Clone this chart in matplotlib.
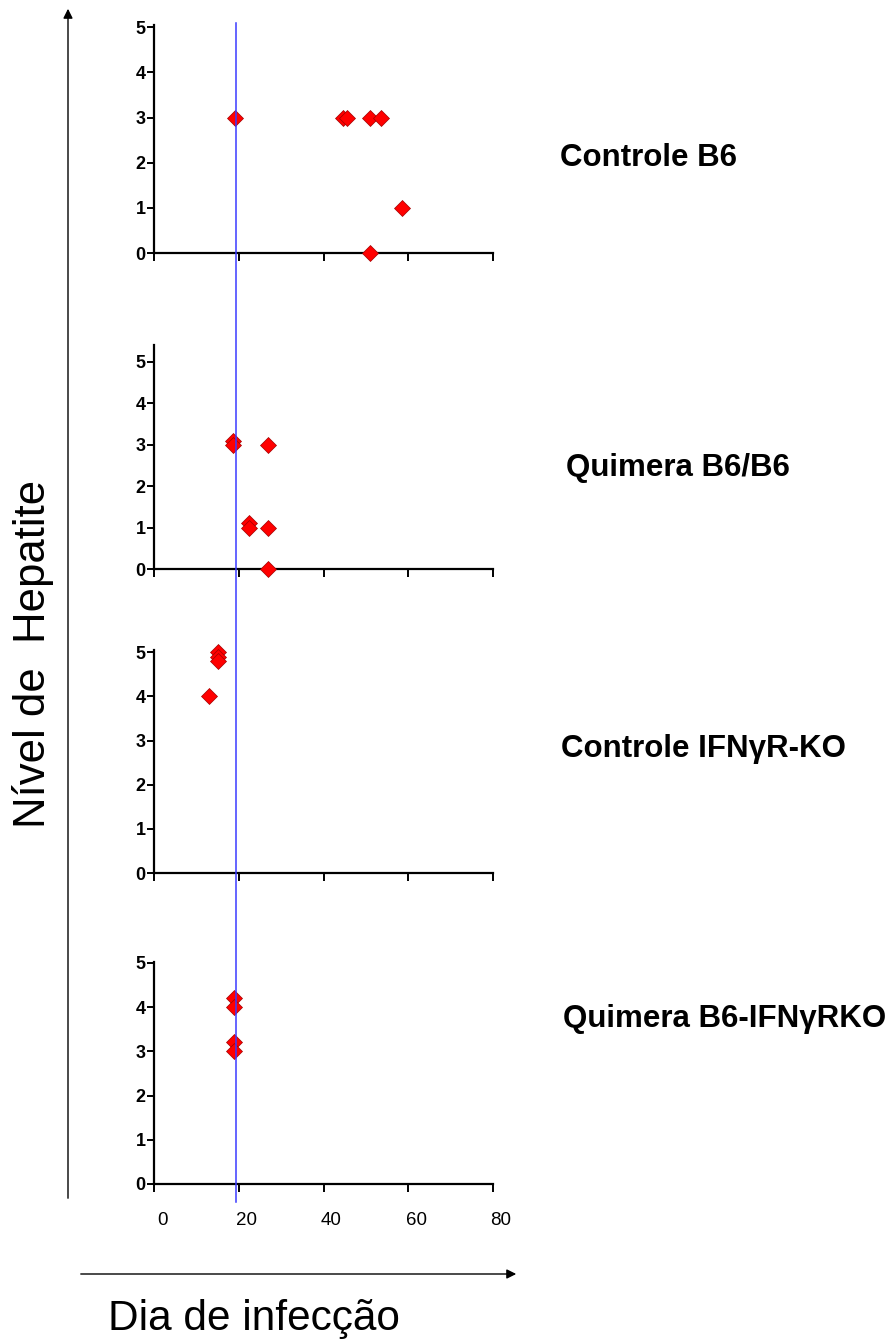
import matplotlib
matplotlib.use('Agg')
import matplotlib.pyplot as plt
from matplotlib.lines import Line2D
from matplotlib.patches import FancyArrowPatch
from matplotlib.transforms import ScaledTranslation

plt.rcParams['font.family'] = ['Liberation Sans', 'DejaVu Sans']

# dados (dia de infeccao, nivel de hepatite)
groups = ['Controle B6', 'Quimera B6/B6', 'Controle IFN\u03b3R-KO', 'Quimera B6-IFN\u03b3RKO']

b6_dias = [19, 44.5, 45.5, 51, 53.5, 58.5, 51]
b6_nivel = [3, 3, 3, 3, 3, 1, 0]

qb6_dias = [18.6, 18.6, 27, 22.4, 22.4, 27, 27]
qb6_nivel = [3.1, 3.0, 3, 1.1, 1.0, 1, 0]

ko_dias = [13, 15, 15, 15]
ko_nivel = [4, 5.0, 4.9, 4.8]

qko_dias = [18.9, 18.9, 18.9, 18.9]
qko_nivel = [4.2, 4.0, 3.2, 3.0]

dia_corte = 19.3
x_ticks = [0, 20, 40, 60, 80]
y_ticks = [0, 1, 2, 3, 4, 5]

all_dias = [b6_dias, qb6_dias, ko_dias, qko_dias]
all_nivel = [b6_nivel, qb6_nivel, ko_nivel, qko_nivel]

W, H = 895, 1340
fig = plt.figure(figsize=(W / 100, H / 100), dpi=100)

# posicoes em pixels: (topo, base, ylim topo, baseline do rotulo)
paineis = [(25, 253, 5.05, 166), (345, 569, 5.41, 476), (650, 873, 5.05, 757), (962, 1184, 5.02, 1027)]
rot_x = [560, 566, 561, 563]

axes = []
for i, (top, bot, ytop, lab_y) in enumerate(paineis):
    ax = fig.add_axes([154 / W, 1 - bot / H, 339 / W, (bot - top) / H])
    ax.plot(all_dias[i], all_nivel[i], linestyle='none', marker='D', markersize=8.5,
            color='#ff0000', markeredgecolor='#a00000', markeredgewidth=0.5, clip_on=False, zorder=3)
    ax.set_xlim(0, 80)
    ax.set_ylim(0, ytop)
    ax.set_xticks(x_ticks)
    ax.set_yticks(y_ticks)
    for s in ['top', 'right']:
        ax.spines[s].set_visible(False)
    for s in ['left', 'bottom']:
        ax.spines[s].set_linewidth(1.6)
    ax.tick_params(axis='y', length=5, width=1.4, pad=1, labelsize=13)
    ax.tick_params(axis='x', length=6, width=1.4, pad=14, labelsize=13.5)
    for t in ax.get_yticklabels():
        t.set_fontweight('bold')
    if i < 3:
        ax.set_xticklabels([])
    else:
        off = ScaledTranslation(8 / 100, 0, fig.dpi_scale_trans)
        for t in ax.get_xticklabels():
            t.set_transform(t.get_transform() + off)
    fig.text(rot_x[i] / W, 1 - lab_y / H, groups[i], fontsize=22.5, fontweight='bold',
             ha='left', va='baseline')
    axes.append(ax)

# linha azul vertical atravessando todos os paineis
xd = axes[0].transData.transform((dia_corte, 0))[0]
xf = fig.transFigure.inverted().transform((xd, 0))[0]
fig.add_artist(Line2D([xf, xf], [1 - 1202 / H, 1 - 23 / H], transform=fig.transFigure,
                      color='#3a3aff', linewidth=1.1, zorder=5))

# setas dos eixos gerais
fig.add_artist(FancyArrowPatch((68 / W, 1 - 1201 / H), (68 / W, 1 - 6 / H), transform=fig.transFigure,
                               arrowstyle='-|>', mutation_scale=14, color='black', linewidth=1.0))
fig.add_artist(FancyArrowPatch((78 / W, 1 - 1274 / H), (519 / W, 1 - 1274 / H), transform=fig.transFigure,
                               arrowstyle='-|>', mutation_scale=14, color='black', linewidth=1.0))

fig.text(33 / W, 1 - 654 / H, 'N\u00edvel de  Hepatite', rotation=90, fontsize=31.5,
         ha='center', va='center')
fig.text(108 / W, 1 - 1330 / H, 'Dia de infec\u00e7\u00e3o', fontsize=30.5, ha='left', va='baseline')

fig.savefig('out.png', dpi=100)
